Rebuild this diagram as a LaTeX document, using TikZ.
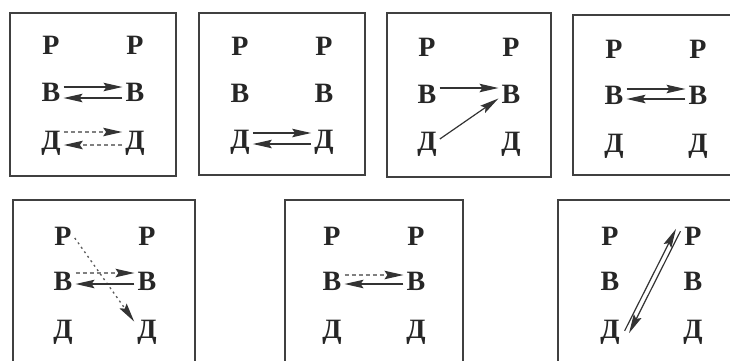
\documentclass[tikz,border=0pt]{standalone}
\usepackage{fontspec}
\setmainfont{Liberation Serif}
\usetikzlibrary{arrows.meta,calc}
\newcommand\mkgrid[6]{%
  \node[lt] (p#1l) at (#2,#4) {Р};
  \node[lt] (p#1r) at (#3,#4) {Р};
  \node[lt] (b#1l) at (#2,#5) {В};
  \node[lt] (b#1r) at (#3,#5) {В};
  \node[lt] (d#1l) at (#2,#6) {Д};
  \node[lt] (d#1r) at (#3,#6) {Д};
}
\begin{document}
\begin{tikzpicture}[x=1pt,y=-1pt,
  lt/.style={font=\fontsize{28}{30}\selectfont\bfseries, inner xsep=3pt, inner ysep=0pt,
    text height=18.5pt, text depth=0pt, text=black!85},
  frame/.style={draw=black!75, line width=1.8pt},
  arr/.style={draw=black!80, line width=1.2pt, -{Stealth[length=19pt,width=8.5pt,inset=3pt]}},
  dsh/.style={draw=black!50, line width=1.2pt, dash pattern=on 4pt off 3pt,
    -{Stealth[length=19pt,width=8.5pt,inset=3pt,color=black!80]}},
  dot/.style={draw=black!65, line width=1.3pt, dash pattern=on 2pt off 3.5pt,
    -{Stealth[length=19pt,width=8.5pt,inset=3pt,color=black!80]}},
]
\useasboundingbox (0,0) rectangle (730,360);
\begin{scope}
  \clip (0,0) rectangle (730,360);
  \draw[frame] (10,13) rectangle (176,176);
  \draw[frame] (199,13) rectangle (365,175);
  \draw[frame] (387,13) rectangle (551,177);
  \draw[frame] (573,15) rectangle (745,175);
  \draw[frame] (13,200) rectangle (195,375);
  \draw[frame] (285,200) rectangle (463,375);
  \draw[frame] (558,200) rectangle (745,375);
\end{scope}

\mkgrid{1}{51}{135}{45}{92}{140}
\mkgrid{2}{240}{324}{46}{93}{139}
\mkgrid{3}{427}{511}{47}{94}{141}
\mkgrid{4}{614}{698}{49}{95}{143}
\mkgrid{5}{63}{147}{236}{281}{329}
\mkgrid{6}{332}{416}{236}{281}{329}
\mkgrid{7}{610}{693}{236}{281}{329}

% box 1
\draw[arr] ([yshift=5pt]b1l.east) -- ([yshift=5pt]b1r.west);
\draw[arr] ([yshift=-6pt]b1r.west) -- ([yshift=-6pt]b1l.east);
\draw[dsh] ([yshift=8pt]d1l.east) -- ([yshift=8pt]d1r.west);
\draw[dsh] ([yshift=-5pt]d1r.west) -- ([yshift=-5pt]d1l.east);
% box 2
\draw[arr] ([yshift=6pt]d2l.east) -- ([yshift=6pt]d2r.west);
\draw[arr] ([yshift=-5pt]d2r.west) -- ([yshift=-5pt]d2l.east);
% box 3
\draw[arr] ([yshift=6pt]b3l.east) -- ([yshift=6pt]b3r.west);
\draw[arr] ([yshift=2pt]d3l.east) -- ([yshift=5pt]b3r.south west);
% box 4
\draw[arr] ([yshift=6pt]b4l.east) -- ([yshift=6pt]b4r.west);
\draw[arr] ([yshift=-4pt]b4r.west) -- ([yshift=-4pt]b4l.east);
% box 5
\draw[dot] ([yshift=-2pt]p5l.east) -- ([yshift=-2pt]d5r.north west);
\draw[dsh] ([yshift=8pt]b5l.east) -- ([yshift=8pt]b5r.west);
\draw[arr] ([yshift=-3pt]b5r.west) -- ([yshift=-3pt]b5l.east);
% box 6
\draw[dsh] ([yshift=6pt]b6l.east) -- ([yshift=6pt]b6r.west);
\draw[arr] ([yshift=-3pt]b6r.west) -- ([yshift=-3pt]b6l.east);
% box 7
\coordinate (s7) at ([xshift=4pt,yshift=-3pt]d7l.east);
\coordinate (e7) at ([xshift=-3pt,yshift=6pt]p7r.west);
\draw[arr] ($(s7)!2.5pt!90:(e7)$) -- ($(e7)!2.5pt!-90:(s7)$);
\draw[arr] ($(e7)!2.5pt!90:(s7)$) -- ($(s7)!2.5pt!-90:(e7)$);
\end{tikzpicture}
\end{document}
